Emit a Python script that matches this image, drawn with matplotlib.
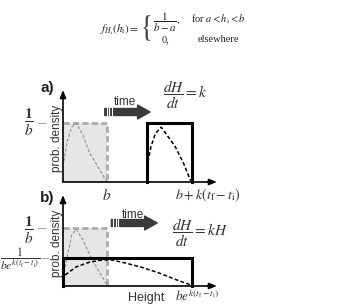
import matplotlib
matplotlib.use('Agg')
import matplotlib.pyplot as plt
from matplotlib.patches import Rectangle

plt.rcParams['mathtext.fontset'] = 'stix'
plt.rcParams['font.family'] = ['Liberation Sans', 'DejaVu Sans']

W, H = 343, 306

# ---- data (x in units of b, y in units of 1/b) ----
b_pos = 1.0                 # upper limit of initial uniform distribution
a_shift_start = 1.91        # panel a: final box start (a + k(tf-ti))
final_end = 2.93            # b + k(tf-ti)  /  b e^{k(tf-ti)}
uniform_h = 1.0             # 1/b
b_final_h = 0.48            # 1/(b e^{k(tf-ti)})

# panel a curves
a_init_x = [0.02, 0.1, 0.2, 0.3, 0.45, 0.6, 0.8, 1.0]
a_init_y = [0.35, 0.7, 0.93, 1.0, 0.8, 0.5, 0.25, 0.0]
a_final_x = [1.93, 2.0, 2.1, 2.23, 2.33, 2.55, 2.75, 2.9]
a_final_y = [0.34, 0.6, 0.82, 0.93, 0.83, 0.6, 0.3, 0.02]

# panel b curves
b_init_x = [0.03, 0.12, 0.2, 0.3, 0.45, 0.6, 0.8, 1.0]
b_init_y = [0.24, 0.6, 0.88, 0.98, 0.8, 0.55, 0.27, 0.02]
b_final_x = [0.05, 0.3, 0.6, 0.9, 1.1, 1.4, 1.8, 2.2, 2.6, 2.9]
b_final_y = [0.19, 0.33, 0.41, 0.45, 0.45, 0.4, 0.32, 0.22, 0.1, 0.02]

GRAY_LINE = '#ababab'
GRAY_FILL = '#e6e6e6'
TXT = '#333333'

fig = plt.figure(figsize=(W / 100, H / 100), dpi=100)


def ftext(x, y, s, **kw):
    fig.text(x / W, 1 - y / H, s, **kw)


def make_panel(rect, ylim, init_x, init_y, fin_x, fin_y, box_start, box_h):
    ax = fig.add_axes(rect)
    ax.set_xlim(0, 3.5)
    ax.set_ylim(0, ylim)
    for s in ax.spines.values():
        s.set_visible(False)
    ax.set_xticks([])
    ax.set_yticks([])
    ax.patch.set_alpha(0)
    # initial uniform box
    ax.add_patch(Rectangle((0, 0), b_pos, uniform_h, facecolor=GRAY_FILL,
                           edgecolor='none', zorder=1))
    ax.plot([0, b_pos, b_pos], [uniform_h, uniform_h, 0], color=GRAY_LINE,
            lw=2.0, ls=(0, (2.2, 1.2)), zorder=2, clip_on=False)
    ax.plot(init_x, init_y, color='#999999', lw=0.9, ls=(0, (2.5, 1.5)), zorder=3)
    # final box
    ax.plot([box_start, box_start, final_end, final_end],
            [0, box_h, box_h, 0], color='black', lw=2.2, zorder=4,
            solid_joinstyle='miter', clip_on=False)
    ax.plot(fin_x, fin_y, color='black', lw=1.1, ls=(0, (2.5, 1.5)), zorder=5)
    # axes with arrows
    ax.annotate('', xy=(0, 1.0), xytext=(0, 0), xycoords='axes fraction',
                arrowprops=dict(arrowstyle='-|>,head_length=0.45,head_width=0.18',
                                color='black', lw=1.2, shrinkA=0, shrinkB=0), zorder=6)
    ax.annotate('', xy=(1.0, 0), xytext=(0, 0), xycoords='axes fraction',
                arrowprops=dict(arrowstyle='-|>,head_length=0.45,head_width=0.18',
                                color='black', lw=1.2, shrinkA=0, shrinkB=0), zorder=6)
    # tick dashes
    ax.plot([-0.57, -0.41], [uniform_h, uniform_h], color='#aaaaaa', lw=0.8, clip_on=False)
    return ax


ax_a = make_panel([63 / W, (H - 182) / H, 154 / W, 92 / H], 92 / 59,
                  a_init_x, a_init_y, a_final_x, a_final_y, a_shift_start, uniform_h)
ax_b = make_panel([63 / W, (H - 286) / H, 154 / W, 91 / H], 91 / 58,
                  b_init_x, b_init_y, b_final_x, b_final_y, 0.0, b_final_h)
ax_b.plot([-0.47, -0.33], [b_final_h, b_final_h], color='#aaaaaa', lw=0.8, clip_on=False)

# y labels
for ax in (ax_a, ax_b):
    ax.text(-0.04, 0.47, 'prob. density', rotation=90, ha='center', va='center',
            transform=ax.transAxes, fontsize=8.5, color=TXT)

# tick labels
ax_a.text(b_pos, -0.05, '$b$', ha='center', va='top', fontsize=11,
          transform=ax_a.get_xaxis_transform(), color=TXT)
ax_a.text(2.55, -0.05, r'$b+k(t_{\mathrm{f}}-t_{\mathrm{i}})$', ha='left',
          va='top', fontsize=10, transform=ax_a.get_xaxis_transform(), color=TXT)
ax_b.text(2.55, -0.02, r'$be^{k(t_{\mathrm{f}}-t_{\mathrm{i}})}$', ha='left',
          va='top', fontsize=9.5, transform=ax_b.get_xaxis_transform(), color=TXT)
ax_b.text(1.88, -0.07, 'Height', ha='center', va='top', fontsize=9,
          transform=ax_b.get_xaxis_transform(), color=TXT)

ax_a.text(-0.78, uniform_h, r'$\mathbf{\dfrac{1}{\mathit{b}}}$', ha='center', va='center',
          fontsize=11, color=TXT)
ax_b.text(-0.78, uniform_h - 0.05, r'$\mathbf{\dfrac{1}{\mathit{b}}}$', ha='center', va='center',
          fontsize=11, color=TXT)
ax_b.text(-0.98, b_final_h, r'$\dfrac{1}{be^{k(t_{\mathrm{f}}-t_{\mathrm{i}})}}$', ha='center',
          va='center', fontsize=8.5, color=TXT)

# panel letters
ftext(47, 88, 'a)', fontsize=11, fontweight='bold', ha='center', va='center', color='#222222')
ftext(47, 198, 'b)', fontsize=11, fontweight='bold', ha='center', va='center', color='#222222')


# time arrows
def time_arrow(ax, x0, x1, y):
    ax.annotate('', xy=(x1, y), xytext=(x0, y),
                arrowprops=dict(arrowstyle='simple,head_length=0.9,head_width=1.0,tail_width=0.5',
                                color='#3a3a3a', shrinkA=0, shrinkB=0), annotation_clip=False)
    for xs in [x0 + 0.04, x0 + 0.1, x0 + 0.16]:
        ax.plot([xs, xs], [y - 0.08, y + 0.08], color='white', lw=0.8, zorder=10, clip_on=False)


time_arrow(ax_a, 0.95, 1.98, 70 / 59)
time_arrow(ax_b, 1.1, 2.14, 63 / 58)
ax_a.text(1.41, 80 / 59, 'time', ha='center', va='center', fontsize=8.5, color=TXT)
ax_b.text(1.6, 71 / 58, 'time', ha='center', va='center', fontsize=8.5, color=TXT)

ftext(185, 95, r'$\dfrac{dH}{dt}=k$', fontsize=11, ha='center', va='center', color=TXT)
ftext(200, 233, r'$\dfrac{dH}{dt}=kH$', fontsize=11, ha='center', va='center', color=TXT)

# top equation
ftext(139, 30, r'$f_{H_{\mathrm{i}}}(h_{\mathrm{i}})=$', fontsize=8, ha='right', va='center', color='#222222')
ftext(145, 28, r'$\{$', fontsize=22, ha='center', va='center', color='#444444')
ftext(167, 22, r'$\dfrac{1}{b-a},$', fontsize=8, ha='center', va='center', color='#222222')
ftext(218, 19, r'for $a<h_{\mathrm{i}}<b$', fontsize=7.5, ha='center', va='center', color='#222222',
      family='Liberation Serif')
ftext(166, 40, '0,', fontsize=7.5, ha='center', va='center', color='#222222', family='Liberation Serif')
ftext(218, 40, 'elsewhere', fontsize=7.5, ha='center', va='center', color='#222222',
      family='Liberation Serif')

fig.savefig('out.png', dpi=100)
